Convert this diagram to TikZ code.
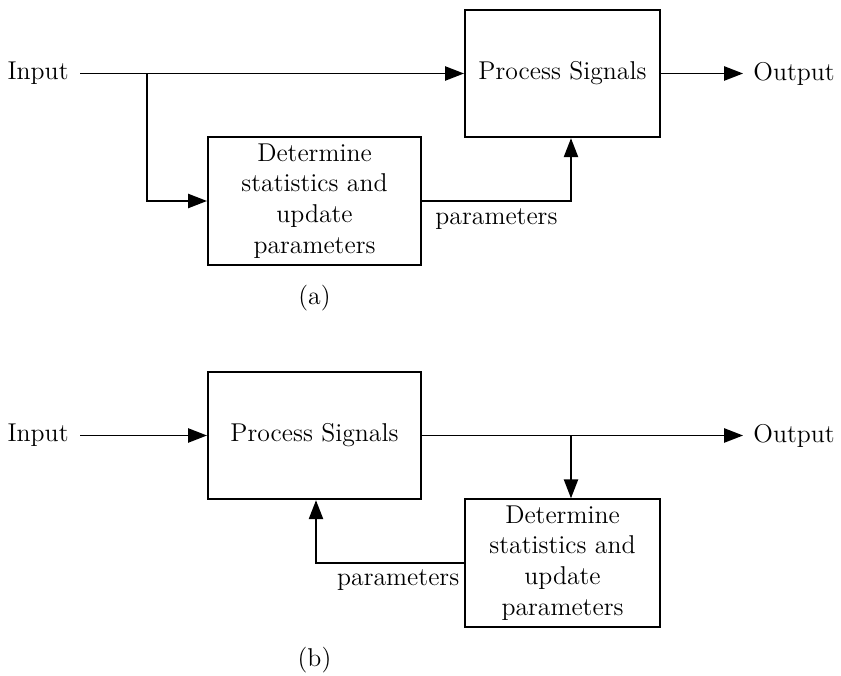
\documentclass[tikz,border=0pt]{standalone}
\usetikzlibrary{arrows.meta}
\begin{document}
\begin{tikzpicture}[x=0.4545pt,y=-0.4545pt,
  txt/.style={font=\fontsize{11.7pt}{14pt}\selectfont},
  box/.style={draw,line width=0.9pt,inner sep=0pt,align=center,txt},
  wideb/.style={minimum width=96.8pt},
  narrowb/.style={minimum width=88.6pt},
  tallb/.style={minimum height=57.9pt},
  conn/.style={line width=0.9pt},
  arr/.style={conn,-{Triangle[length=8.6pt,width=6.4pt]}},
  lbl/.style={inner sep=0pt,txt}]
\useasboundingbox (0,0) rectangle (841,676);
% (a)
\node[box,narrowb,tallb] (psa) at (562.5,73.5) {Process Signals};
\node[box,wideb,tallb] (dsa) at (314.5,201) {Determine\\statistics and\\update\\parameters};
\node[lbl,anchor=east] (ina) at (69,73.5) {Input};
\node[lbl,anchor=west] (outa) at (753,73.5) {Output};
\coordinate (bra) at (147,73.5);
\coordinate (cra) at (571,201);
\draw[arr,shorten <=5pt] (ina.east) -- (psa.west);
\draw[arr] (bra) |- (dsa.west);
\draw[arr,shorten >=4.5pt] (psa.east) -- (outa.west);
\draw[arr] (dsa.east) -- node[lbl,below=3pt,pos=0.5] (pa) {parameters} (cra) -- (cra|-psa.south);
\node[lbl] (capa) at (314.5,298) {(a)};
% (b)
\node[box,wideb,tallb] (psb) at (314.5,435.5) {Process Signals};
\node[box,narrowb,tallb] (dsb) at (562.5,563) {Determine\\statistics and\\update\\parameters};
\node[lbl,anchor=east] (inb) at (69,435.5) {Input};
\node[lbl,anchor=west] (outb) at (753,435.5) {Output};
\coordinate (brb) at (571,435.5);
\coordinate (crb) at (316,563);
\draw[arr,shorten <=5pt] (inb.east) -- (psb.west);
\draw[arr,shorten >=4.5pt] (psb.east) -- (outb.west);
\draw[arr] (brb) -- (brb|-dsb.north);
\draw[arr] (dsb.west) -- (crb) -- (crb|-psb.south);
\node[lbl,anchor=north east] (pb) at ([xshift=-2pt,yshift=-3pt]dsb.west|-crb) {parameters};
\node[lbl] (capb) at (314.5,660) {(b)};
\end{tikzpicture}
\end{document}
